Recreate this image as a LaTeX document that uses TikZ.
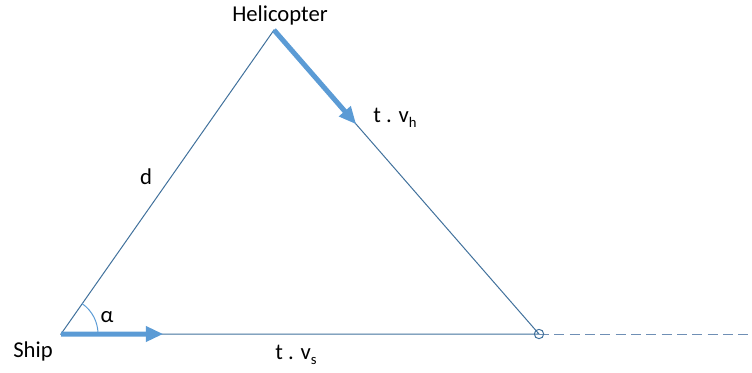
\documentclass[tikz,border=0pt]{standalone}
\usepackage{fontspec}
\setmainfont{Carlito}
\usetikzlibrary{arrows.meta,calc}

\definecolor{edgeblue}{HTML}{41719C}
\definecolor{arrowblue}{HTML}{5B9BD5}
\definecolor{dashblue}{HTML}{6F8FB5}

\tikzstyle{side} = [draw=edgeblue, line width=0.75pt]
\tikzstyle{speed} = [draw=arrowblue, line width=3.75pt, -{Triangle[length=13pt,width=11pt]}]
\tikzstyle{lbl} = [inner sep=1pt, font=\fontsize{17}{20}\selectfont]
\newcommand{\lowidx}[1]{\raisebox{-0.45ex}{\fontsize{11}{13}\selectfont #1}}

\begin{document}
\begin{tikzpicture}[x=0.75pt, y=-0.75pt]
\useasboundingbox (0,0) rectangle (752,372);
\coordinate (ship) at (61,334);
\coordinate (heli) at (274,30);
\coordinate (rdv) at (539,334);
\coordinate (far) at (752,334);

% triangle
\draw[side] (ship) -- (heli) -- (rdv) -- cycle;
\draw[draw=dashblue, line width=0.75pt, dash pattern=on 7.5pt off 4pt] (rdv) -- (far);
\node[draw=edgeblue, line width=0.75pt, circle, minimum size=7pt, inner sep=0pt] (meet) at (rdv) {};

% velocities
\coordinate (htip) at ($(heli)!0.31!(rdv)$);
\coordinate (stip) at ($(ship)!0.214!(rdv)$);
\draw[speed] (heli) -- (htip);
\draw[speed] (ship) -- (stip);

% angle
\draw[draw=arrowblue, line width=0.75pt] ($(ship)+(37,0)$) arc[start angle=0, end angle=55, radius=27.75pt];

% labels
\node[lbl] (helilbl) at (280,15) {Helicopter};
\node[lbl] (shiplbl) at (33,351) {Ship};
\node[lbl] (dlbl) at (146,177) {d};
\node[lbl] (alphalbl) at (107,317) {α};
\node[lbl] (vhlbl) at (395,118) {t . v\lowidx{h}};
\node[lbl] (vslbl) at (296,355) {t . v\lowidx{s}};
\end{tikzpicture}
\end{document}
